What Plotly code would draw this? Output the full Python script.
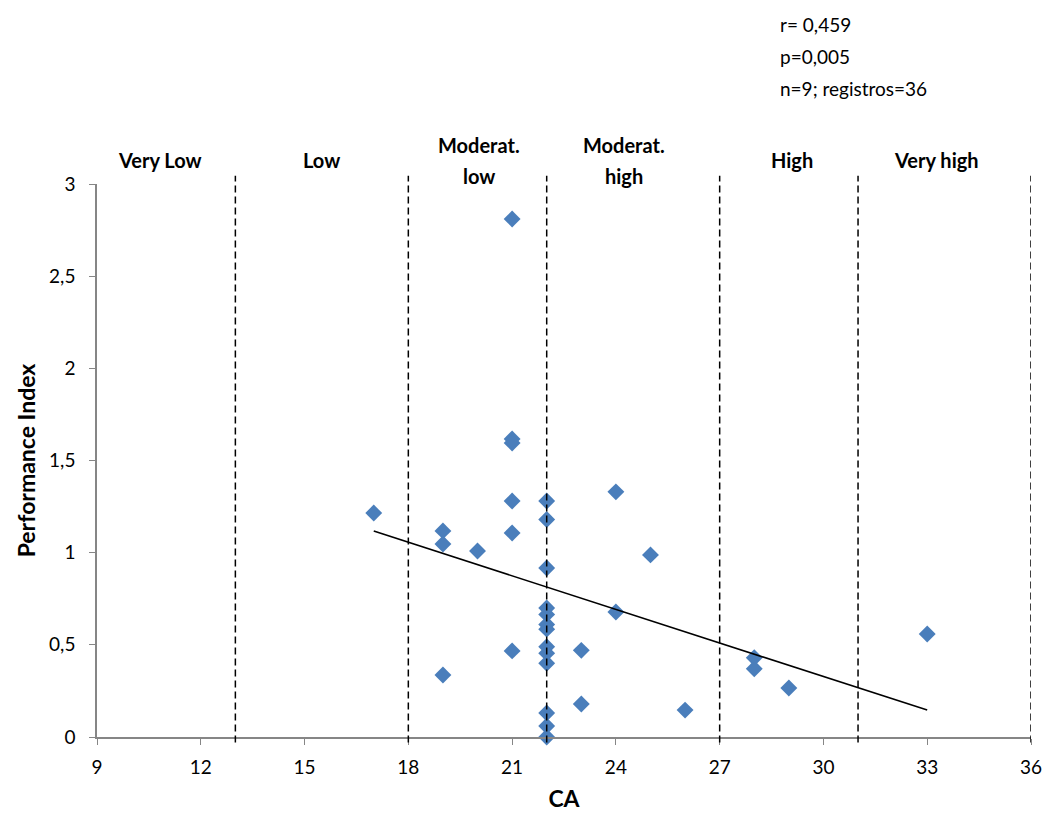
import plotly.graph_objects as go

# Data
ca = [17, 19, 19, 19, 20,
      21, 21, 21, 21, 21, 21,
      22, 22, 22, 22, 22, 22, 22, 22, 22, 22, 22, 22, 22,
      23, 23, 24, 24, 25, 26, 28, 28, 29, 33]
perf = [1.215, 1.118, 1.047, 0.336, 1.009,
        2.81, 1.617, 1.595, 1.28, 1.107, 0.467,
        1.28, 1.18, 0.917, 0.70, 0.665, 0.61, 0.585, 0.49, 0.455, 0.40, 0.13, 0.06, 0.0,
        0.47, 0.179, 1.33, 0.678, 0.988, 0.146, 0.43, 0.37, 0.266, 0.559]

trend_x = [17, 33]
trend_y = [1.117, 0.146]

boundaries = [13, 18, 22, 27, 31, 36]
class_labels = [["Very Low"], ["Low"], ["Moderat.", "low"], ["Moderat.", "high"], ["High"], ["Very high"]]
class_label_x = [10.81, 15.49, 20.03, 24.23, 29.08, 33.27]

x_ticks = [9, 12, 15, 18, 21, 24, 27, 30, 33, 36]
y_ticks = [0, 0.5, 1, 1.5, 2, 2.5, 3]

stats_lines = ["r= 0,459", "p=0,005", "n=9; registros=36"]

FONT = "Lato, Arial"

fig = go.Figure()
fig.add_trace(go.Scatter(
    x=ca, y=perf, mode="markers",
    marker=dict(symbol="diamond", size=13, color="#4A7EBB"),
    cliponaxis=False, showlegend=False))
fig.add_trace(go.Scatter(
    x=trend_x, y=trend_y, mode="lines",
    line=dict(color="black", width=1.6), showlegend=False))

for b in boundaries:
    fig.add_shape(type="line", xref="x", yref="paper", x0=b, x1=b, y0=-0.01, y1=1.015,
                  line=dict(color="black", width=1.5, dash="7px,4px"))

for lx, lines in zip(class_label_x, class_labels):
    n = len(lines)
    for i, lt in enumerate(lines):
        shift = 0 if n == 1 else (15 if i == 0 else -16)
        fig.add_annotation(x=lx, y=1.043, xref="x", yref="paper", text="<b>" + lt + "</b>",
                           showarrow=False, xanchor="center", yanchor="middle", yshift=shift,
                           font=dict(size=20, color="black", family=FONT))

for i, s in enumerate(stats_lines):
    fig.add_annotation(x=0.729, y=1.0, xref="paper", yref="paper", text=s,
                       showarrow=False, xanchor="left", yanchor="middle", align="left",
                       yshift=184 - 24 - i * 32,
                       font=dict(size=19, color="black", family=FONT))

fig.update_layout(
    width=1035, height=807,
    margin=dict(l=89, r=12, t=176, b=78),
    paper_bgcolor="white", plot_bgcolor="white",
    separators=", ",
    font=dict(family=FONT, color="black", size=18),
    xaxis=dict(range=[9, 36], tickvals=x_ticks, showgrid=False, zeroline=False,
               showline=True, linecolor="#868686", linewidth=1.5,
               ticks="outside", tickcolor="#868686", ticklen=6,
               ticklabelstandoff=6, ticklabeloverflow="allow", automargin=False,
               tickfont=dict(size=19),
               title=dict(text="<b>CA</b>", font=dict(size=23), standoff=14)),
    yaxis=dict(range=[0, 3], tickvals=y_ticks, showgrid=False, zeroline=False,
               showline=True, linecolor="#868686", linewidth=1.5,
               ticks="outside", tickcolor="#868686", ticklen=6,
               ticklabelstandoff=10, ticklabeloverflow="allow", automargin=False,
               tickformat=".1~f",
               tickfont=dict(size=19),
               title=dict(text="<b>Performance Index</b>", font=dict(size=23), standoff=7)),
)

fig.write_html("out.html")
